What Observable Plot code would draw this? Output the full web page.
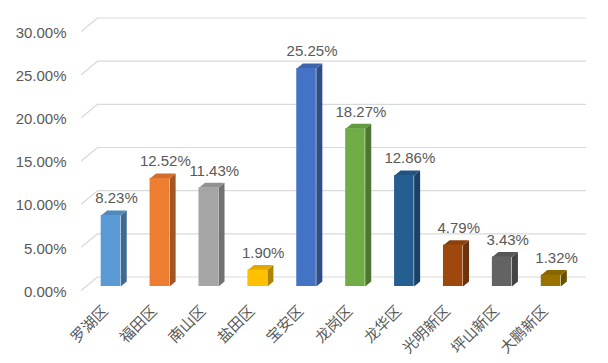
<!DOCTYPE html>
<html><head><meta charset="utf-8">
<script src="https://cdn.jsdelivr.net/npm/d3@7"></script>
<script src="https://cdn.jsdelivr.net/npm/@observablehq/plot@0.6"></script>
<style>
body{margin:0;background:#fff}
svg{font-family:"Liberation Sans","Noto Sans CJK SC",sans-serif}
</style>
</head><body><div id="chart"></div>
<script>
// ---- data ----
const districts = ["罗湖区","福田区","南山区","盐田区","宝安区","龙岗区","龙华区","光明新区","坪山新区","大鹏新区"];
const shares = [8.23, 12.52, 11.43, 1.90, 25.25, 18.27, 12.86, 4.79, 3.43, 1.32];
const yTicks = [0, 5, 10, 15, 20, 25, 30];
const palette = ["#5B9BD5","#ED7D31","#A5A5A5","#FFC000","#4472C4","#70AD47","#255E91","#9E480E","#636363","#997300"];

// ---- layout / style ----
const W = 608, H = 363;
const mL = 86, mR = 33, mT = 27, mB = 77;
const pxX = 10 / (W - mL - mR);      // data units per pixel (x)
const pxY = 30 / (H - mT - mB);      // data units per pixel (y)
const half = 0.2;                    // half bar width (x units)
const dX = 6 * pxX, dY = 5 * pxY;    // 3D depth of bars
const grid = "#D9D9D9", ink = "#595959";

const data = districts.map((name, i) => ({i, name, v: shares[i], c: palette[i]}));
const shade = (c, k) => d3.color(c).darker(k).formatHex();

const sides = data.flatMap(d => [
  {i: d.i, x: d.i + half, y: 0},
  {i: d.i, x: d.i + half, y: d.v},
  {i: d.i, x: d.i + half + dX, y: d.v + dY},
  {i: d.i, x: d.i + half + dX, y: dY}
].map(p => ({...p, c: shade(d.c, 1.05)})));

const tops = data.flatMap(d => [
  {i: d.i, x: d.i - half, y: d.v},
  {i: d.i, x: d.i + half, y: d.v},
  {i: d.i, x: d.i + half + dX, y: d.v + dY},
  {i: d.i, x: d.i - half + dX, y: d.v + dY}
].map(p => ({...p, c: shade(d.c, 0.35)})));

// floor diagonals from front edge to back wall
const fx = -0.5 - 5.3 * pxX, bx = -0.5 + 11 * pxX;

const chart = Plot.plot({
  width: W, height: H,
  marginLeft: mL, marginRight: mR, marginTop: mT, marginBottom: mB,
  x: {domain: [-0.5, 9.5], axis: null},
  y: {domain: [0, 30], axis: null},
  color: {type: "identity"},
  style: {background: "#fff", color: ink},
  marks: [
    Plot.ruleY(yTicks, {y: d => d, stroke: grid, strokeWidth: 1.2, dx: 11, dy: -9.5}),
    Plot.link(yTicks, {x1: fx, y1: d => d - 4 * pxY, x2: bx, y2: d => d + 9.5 * pxY, stroke: grid, strokeWidth: 1.2}),
    Plot.text(yTicks, {y: d => d, frameAnchor: "left", dx: -20, dy: 5.5, textAnchor: "end",
      text: d => d.toFixed(2) + "%", fontSize: 15, fill: ink}),
    Plot.line(sides, {x: "x", y: "y", z: "i", fill: "c", stroke: "none"}),
    Plot.line(tops, {x: "x", y: "y", z: "i", fill: "c", stroke: "none"}),
    Plot.rect(data, {x1: d => d.i - half, x2: d => d.i + half, y1: 0, y2: "v", fill: "c"}),
    Plot.text(data, {x: "i", y: "v", dx: 5.5, dy: -17, text: d => d.v.toFixed(2) + "%", fontSize: 15, fill: ink}),
    Plot.text(data, {x: "i", y: 0, dx: -5.5, dy: 22, rotate: -45, textAnchor: "end",
      text: "name", fontSize: 15, fill: ink})
  ]
});
document.getElementById("chart").appendChild(chart);
</script>
</body></html>
